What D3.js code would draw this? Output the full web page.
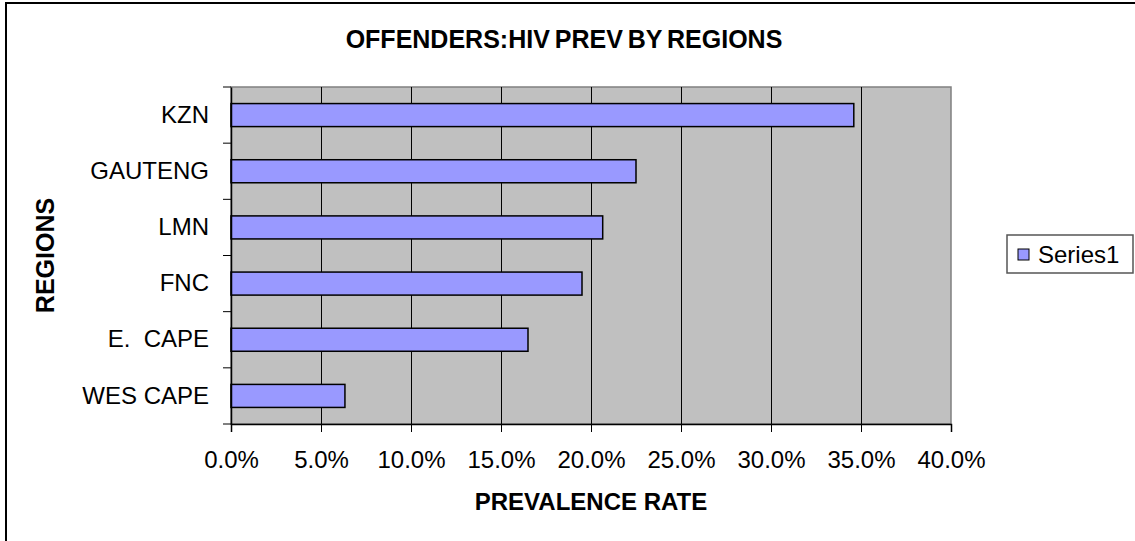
<!DOCTYPE html>
<html>
<head>
<meta charset="utf-8">
<script src="https://cdn.jsdelivr.net/npm/d3@7"></script>
<style>
  body { margin: 0; background: #fff; }
  svg { display: block; font-family: "Liberation Sans", Arial, sans-serif; }
</style>
</head>
<body>
<svg id="chart" width="1135" height="541"></svg>
<script>
// values
const regions = ['KZN', 'GAUTENG', 'LMN', 'FNC', 'E.  CAPE', 'WES CAPE'];
const prevalence = [0.346, 0.225, 0.2065, 0.195, 0.165, 0.0633];
const xTicks = [0, 0.05, 0.10, 0.15, 0.20, 0.25, 0.30, 0.35, 0.40];
const seriesName = 'Series1';

const svg = d3.select('#chart');
const plot = { left: 231, right: 951, top: 87, bottom: 424 };

const x = d3.scaleLinear().domain([0, 0.4]).range([plot.left, plot.right]);
const y = d3.scaleBand().domain(regions).range([plot.top, plot.bottom])
    .paddingInner(0.59).paddingOuter(0.295);

// outer chart border (runs off the right and bottom edge)
svg.append('rect')
    .attr('x', 6).attr('y', 3)
    .attr('width', 1140).attr('height', 560)
    .attr('fill', 'none').attr('stroke', '#000').attr('stroke-width', 2);

// plot background
svg.append('rect')
    .attr('x', plot.left).attr('y', plot.top)
    .attr('width', plot.right - plot.left).attr('height', plot.bottom - plot.top)
    .attr('fill', '#c0c0c0').attr('stroke', '#808080').attr('stroke-width', 1.5);

// vertical gridlines
svg.append('g')
    .selectAll('line')
    .data(xTicks.slice(1, -1))
    .join('line')
    .attr('x1', d => Math.round(x(d)) + 0.5).attr('x2', d => Math.round(x(d)) + 0.5)
    .attr('y1', plot.top).attr('y2', plot.bottom)
    .attr('stroke', '#000').attr('stroke-width', 1);

// bars
svg.append('g')
    .selectAll('rect')
    .data(regions)
    .join('rect')
    .attr('x', x(0))
    .attr('y', d => y(d))
    .attr('width', (d, i) => x(prevalence[i]) - x(0))
    .attr('height', y.bandwidth())
    .attr('fill', '#9999ff')
    .attr('stroke', '#000').attr('stroke-width', 1.5);

// x axis
const xAxis = svg.append('g')
    .attr('transform', `translate(0,${plot.bottom})`)
    .call(d3.axisBottom(x).tickValues(xTicks).tickFormat(d3.format('.1%')).tickSize(8).tickPadding(19));
xAxis.select('.domain').attr('stroke-width', 1.5);
xAxis.selectAll('text').attr('font-size', 24).attr('fill', '#000').attr('font-family', null);

// y axis: labels at band centres, ticks at band boundaries
const yAxis = svg.append('g')
    .attr('transform', `translate(${plot.left},0)`)
    .call(d3.axisLeft(y).tickSize(0).tickPadding(22));
yAxis.select('.domain').attr('stroke-width', 1.5);
yAxis.selectAll('text').attr('font-size', 24).attr('fill', '#000')
    .attr('font-family', null).style('white-space', 'pre');

svg.append('g')
    .selectAll('line')
    .data(d3.range(regions.length + 1))
    .join('line')
    .attr('x1', plot.left - 8).attr('x2', plot.left)
    .attr('y1', i => plot.top + i * y.step()).attr('y2', i => plot.top + i * y.step())
    .attr('stroke', '#000').attr('stroke-width', 1);

// titles
svg.append('text')
    .attr('x', 564).attr('y', 48)
    .attr('text-anchor', 'middle').attr('font-size', 25).attr('font-weight', 'bold')
    .style('word-spacing', '-2px')
    .text('OFFENDERS:HIV PREV BY REGIONS');

svg.append('text')
    .attr('x', (plot.left + plot.right) / 2).attr('y', 510)
    .attr('text-anchor', 'middle').attr('font-size', 24).attr('font-weight', 'bold')
    .text('PREVALENCE RATE');

svg.append('text')
    .attr('transform', `translate(54,${(plot.top + plot.bottom) / 2}) rotate(-90)`)
    .attr('text-anchor', 'middle').attr('font-size', 25).attr('font-weight', 'bold')
    .text('REGIONS');

// legend
const legend = svg.append('g').attr('transform', 'translate(1007,235)');
legend.append('rect')
    .attr('width', 126).attr('height', 38)
    .attr('fill', '#fff').attr('stroke', '#555').attr('stroke-width', 1.5);
legend.append('rect')
    .attr('x', 11).attr('y', 14).attr('width', 11).attr('height', 11)
    .attr('fill', '#9999ff').attr('stroke', '#000').attr('stroke-width', 1);
legend.append('text')
    .attr('x', 31).attr('y', 28)
    .attr('font-size', 24)
    .text(seriesName);
</script>
</body>
</html>
